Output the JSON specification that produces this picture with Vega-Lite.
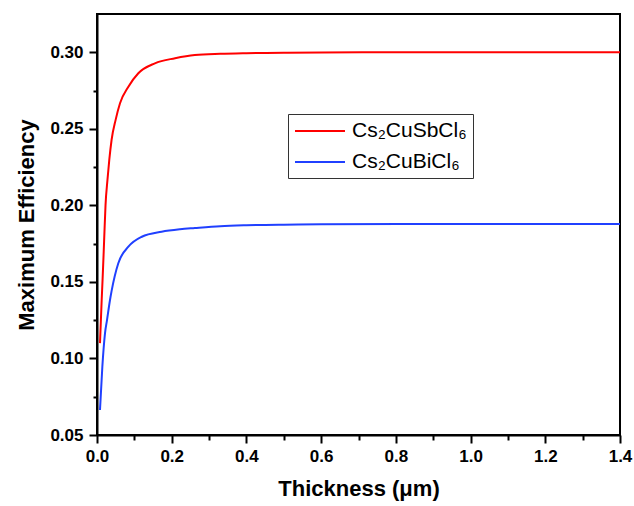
{
  "$schema": "https://vega.github.io/schema/vega-lite/v6.json",
  "width": 523,
  "height": 421,
  "padding": {"left": 15, "top": 14, "right": 5, "bottom": 5},
  "background": "white",
  "config": {
    "font": "Liberation Sans",
    "view": {"stroke": "black", "strokeWidth": 2},
    "axis": {
      "domainColor": "black",
      "domainWidth": 2,
      "tickColor": "black",
      "tickWidth": 2,
      "grid": false,
      "labelFont": "Liberation Sans",
      "labelFontSize": 17,
      "labelFontWeight": "bold",
      "labelColor": "black",
      "titleFont": "Liberation Sans",
      "titleFontSize": 22,
      "titleFontWeight": "bold",
      "titleColor": "black"
    }
  },
  "data": {
    "values": [
      {"t": 0.008, "eff": 0.110, "m": "Cs₂CuSbCl₆"},
      {"t": 0.0125, "eff": 0.138, "m": "Cs₂CuSbCl₆"},
      {"t": 0.015, "eff": 0.152, "m": "Cs₂CuSbCl₆"},
      {"t": 0.018, "eff": 0.170, "m": "Cs₂CuSbCl₆"},
      {"t": 0.020, "eff": 0.183, "m": "Cs₂CuSbCl₆"},
      {"t": 0.0228, "eff": 0.200, "m": "Cs₂CuSbCl₆"},
      {"t": 0.028, "eff": 0.2166, "m": "Cs₂CuSbCl₆"},
      {"t": 0.033, "eff": 0.230, "m": "Cs₂CuSbCl₆"},
      {"t": 0.039, "eff": 0.2427, "m": "Cs₂CuSbCl₆"},
      {"t": 0.050, "eff": 0.256, "m": "Cs₂CuSbCl₆"},
      {"t": 0.0616, "eff": 0.2667, "m": "Cs₂CuSbCl₆"},
      {"t": 0.084, "eff": 0.2775, "m": "Cs₂CuSbCl₆"},
      {"t": 0.1106, "eff": 0.2863, "m": "Cs₂CuSbCl₆"},
      {"t": 0.155, "eff": 0.2928, "m": "Cs₂CuSbCl₆"},
      {"t": 0.209, "eff": 0.2961, "m": "Cs₂CuSbCl₆"},
      {"t": 0.262, "eff": 0.2982, "m": "Cs₂CuSbCl₆"},
      {"t": 0.33, "eff": 0.2990, "m": "Cs₂CuSbCl₆"},
      {"t": 0.40, "eff": 0.2994, "m": "Cs₂CuSbCl₆"},
      {"t": 0.50, "eff": 0.2997, "m": "Cs₂CuSbCl₆"},
      {"t": 0.60, "eff": 0.2999, "m": "Cs₂CuSbCl₆"},
      {"t": 0.80, "eff": 0.3000, "m": "Cs₂CuSbCl₆"},
      {"t": 1.00, "eff": 0.3000, "m": "Cs₂CuSbCl₆"},
      {"t": 1.20, "eff": 0.3000, "m": "Cs₂CuSbCl₆"},
      {"t": 1.40, "eff": 0.3000, "m": "Cs₂CuSbCl₆"},
      {"t": 0.008, "eff": 0.0663, "m": "Cs₂CuBiCl₆"},
      {"t": 0.0143, "eff": 0.0946, "m": "Cs₂CuBiCl₆"},
      {"t": 0.0214, "eff": 0.1164, "m": "Cs₂CuBiCl₆"},
      {"t": 0.0268, "eff": 0.1251, "m": "Cs₂CuBiCl₆"},
      {"t": 0.0348, "eff": 0.1382, "m": "Cs₂CuBiCl₆"},
      {"t": 0.039, "eff": 0.1440, "m": "Cs₂CuBiCl₆"},
      {"t": 0.057, "eff": 0.1622, "m": "Cs₂CuBiCl₆"},
      {"t": 0.084, "eff": 0.1730, "m": "Cs₂CuBiCl₆"},
      {"t": 0.12, "eff": 0.1795, "m": "Cs₂CuBiCl₆"},
      {"t": 0.173, "eff": 0.1828, "m": "Cs₂CuBiCl₆"},
      {"t": 0.222, "eff": 0.1844, "m": "Cs₂CuBiCl₆"},
      {"t": 0.262, "eff": 0.1852, "m": "Cs₂CuBiCl₆"},
      {"t": 0.33, "eff": 0.1864, "m": "Cs₂CuBiCl₆"},
      {"t": 0.40, "eff": 0.1870, "m": "Cs₂CuBiCl₆"},
      {"t": 0.50, "eff": 0.1874, "m": "Cs₂CuBiCl₆"},
      {"t": 0.60, "eff": 0.1876, "m": "Cs₂CuBiCl₆"},
      {"t": 0.81, "eff": 0.1878, "m": "Cs₂CuBiCl₆"},
      {"t": 1.00, "eff": 0.1878, "m": "Cs₂CuBiCl₆"},
      {"t": 1.40, "eff": 0.1878, "m": "Cs₂CuBiCl₆"}
    ]
  },
  "layer": [
    {
      "mark": {"type": "line", "strokeWidth": 2, "interpolate": "monotone"},
      "encoding": {
        "x": {
          "field": "t",
          "type": "quantitative",
          "scale": {"domain": [0, 1.4], "nice": false, "zero": false},
          "axis": {
            "orient": "bottom",
            "title": "Thickness (μm)",
            "values": [0, 0.2, 0.4, 0.6, 0.8, 1.0, 1.2, 1.4],
            "format": ".1f",
            "tickSize": 8,
            "labelPadding": 5,
            "titlePadding": 14,
            "labelFlush": false,
            "labelOverlap": false
          }
        },
        "y": {
          "field": "eff",
          "type": "quantitative",
          "scale": {"domain": [0.05, 0.325], "nice": false, "zero": false},
          "axis": {
            "orient": "left",
            "title": "Maximum Efficiency",
            "values": [0.05, 0.1, 0.15, 0.2, 0.25, 0.3],
            "format": ".2f",
            "tickSize": 8,
            "labelPadding": 6,
            "titlePadding": 11,
            "labelFlush": false,
            "labelOverlap": false
          }
        },
        "color": {
          "field": "m",
          "type": "nominal",
          "sort": ["Cs₂CuSbCl₆", "Cs₂CuBiCl₆"],
          "scale": {"domain": ["Cs₂CuSbCl₆", "Cs₂CuBiCl₆"], "range": ["#ff0000", "#2040ff"]},
          "legend": {
            "title": null,
            "orient": "none",
            "legendX": 191,
            "legendY": 100,
            "symbolType": "M-1,0H4",
            "symbolSize": 400,
            "symbolStrokeWidth": 2,
            "labelFont": "Liberation Sans",
            "labelFontSize": 21,
            "labelColor": "black",
            "strokeColor": "#333333",
            "padding": 6,
            "rowPadding": 10,
            "labelOffset": 36
          }
        }
      }
    },
    {
      "mark": {"type": "point", "opacity": 0},
      "encoding": {
        "x": {
          "field": "t",
          "type": "quantitative",
          "axis": {
            "orient": "bottom",
            "title": null,
            "values": [0.1, 0.3, 0.5, 0.7, 0.9, 1.1, 1.3],
            "labels": false,
            "domain": false,
            "tickSize": 5
          }
        },
        "y": {
          "field": "eff",
          "type": "quantitative",
          "axis": {
            "orient": "left",
            "title": null,
            "values": [0.075, 0.125, 0.175, 0.225, 0.275],
            "labels": false,
            "domain": false,
            "tickSize": 4
          }
        }
      }
    }
  ],
  "resolve": {"axis": {"x": "independent", "y": "independent"}}
}
